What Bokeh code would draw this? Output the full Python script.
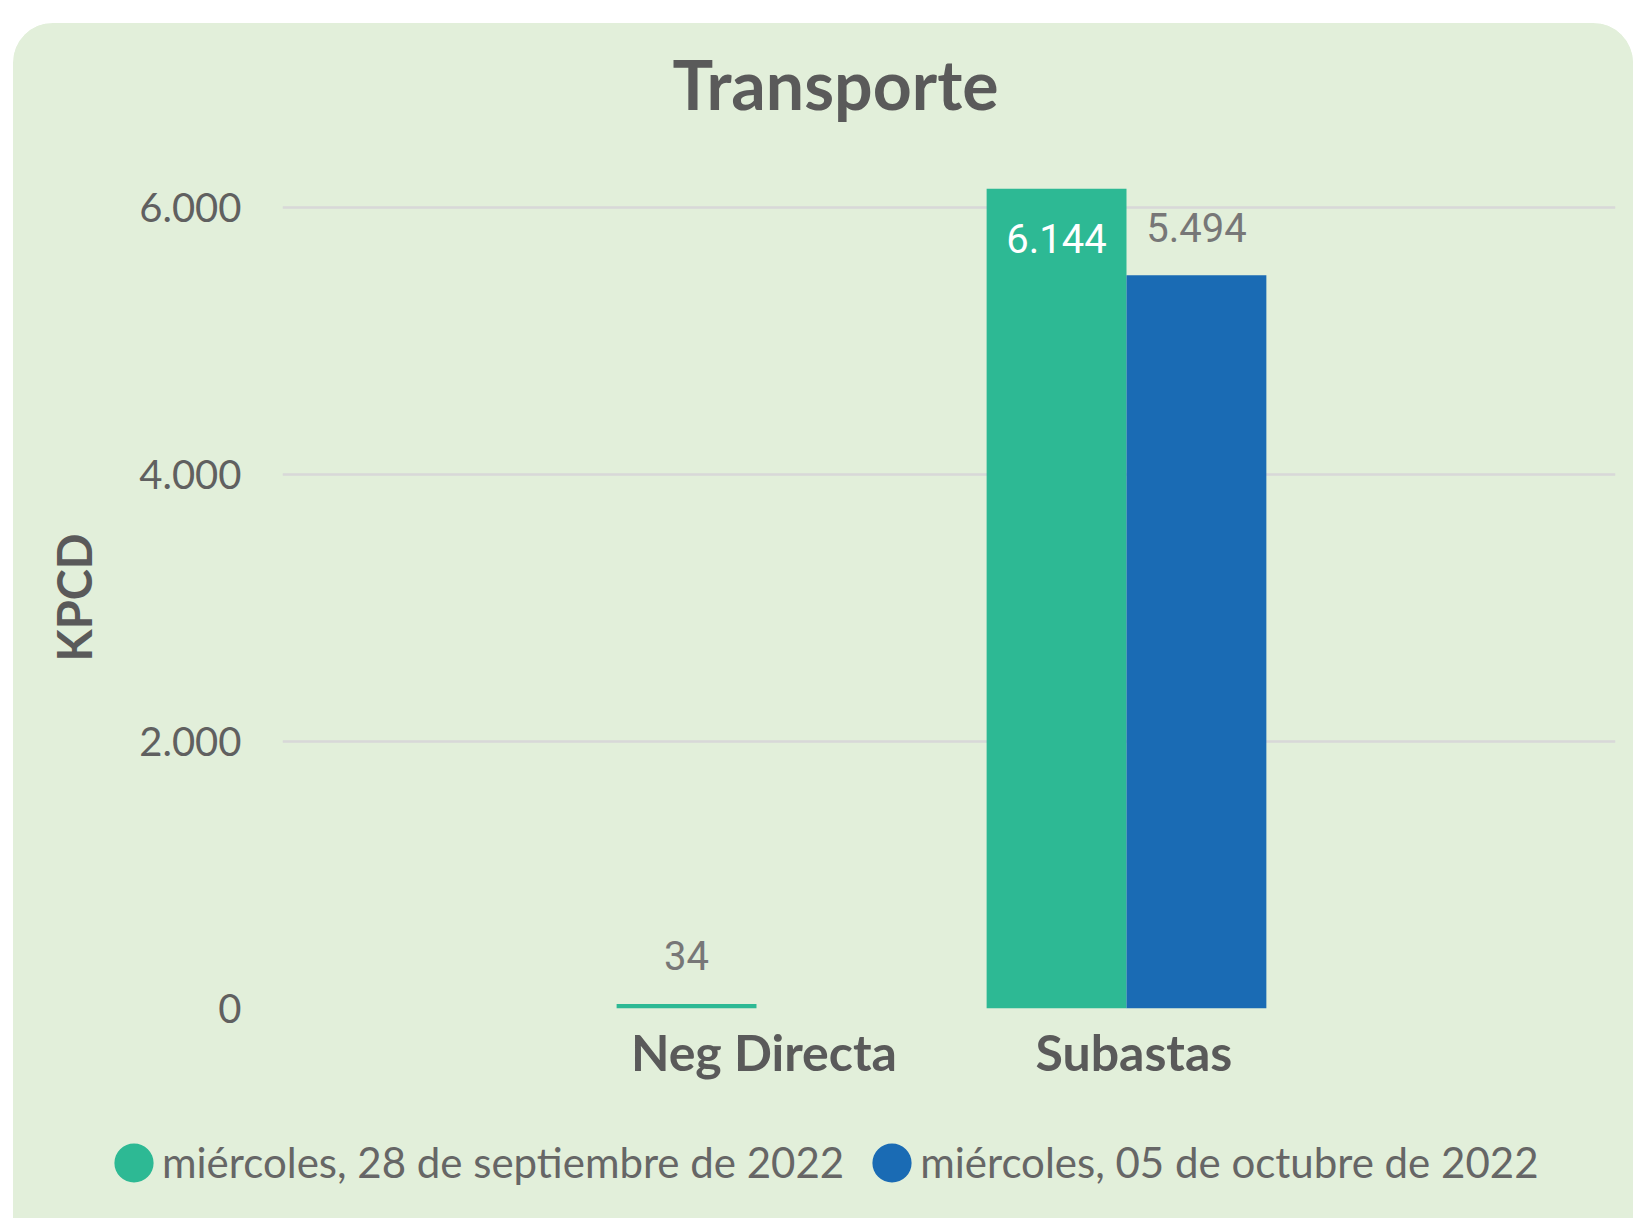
import numpy as np
from bokeh.plotting import figure
from bokeh.layouts import column
from bokeh.models import (ColumnDataSource, Range1d, FixedTicker, Title,
                          CustomJSTickFormatter, Legend, LegendItem)
from bokeh.core.properties import value
from bokeh.embed import file_html
from bokeh.resources import INLINE

# ---------------- data ----------------
categories = ["Neg Directa", "Subastas"]
series_names = ["miércoles, 28 de septiembre de 2022",
                "miércoles, 05 de octubre de 2022"]
values_sep28 = [34, 6144]
values_oct05 = [None, 5494]
series_colors = ["#2DB994", "#1A6BB4"]
y_ticks = [0, 2000, 4000, 6000]
title_text = "Transporte"
y_label = "KPCD"

# ---------------- style ----------------
CARD = "#E2EFDA"
DARK = "#5A5A5A"
TICK = "#606060"
VAL = "#777777"
BAR_W = 0.378
Y_END = 6160
LABEL_SHIFT = 0.02

W, H1, H2 = 1620, 1085, 110
p = figure(width=W, height=H1, output_backend="svg", toolbar_location=None,
           x_range=Range1d(-1.281, 2.3216), y_range=Range1d(0, Y_END),
           min_border_left=269, min_border_right=18,
           min_border_top=163, min_border_bottom=H1 - 985)
p.frame_align = False
p.styles = {"border-radius": "40px 40px 0 0", "overflow": "hidden",
            "background-color": CARD}
p.background_fill_color = CARD
p.border_fill_color = CARD
p.outline_line_color = None

fmt = lambda v: f"{v:,.0f}".replace(",", ".")

out_x, out_y, out_t = [], [], []
in_x, in_y, in_t = [], [], []
all_series = [values_sep28, values_oct05]
for k, (vals, col) in enumerate(zip(all_series, series_colors)):
    xs = [i + (k - 0.5) * BAR_W for i in range(len(categories))]
    tops = [np.nan if v is None else v for v in vals]
    src = ColumnDataSource(dict(x=xs, top=tops))
    p.vbar(x="x", top="top", bottom=0, width=BAR_W, source=src,
           fill_color=col, line_color=None)
    for x, v in zip(xs, vals):
        if v is None:
            continue
        if v > 0.93 * Y_END:
            in_x.append(x); in_y.append(v); in_t.append(fmt(v))
        else:
            out_x.append(x); out_y.append(v); out_t.append(fmt(v))

p.text(x="x", y="y", text="t",
       source=ColumnDataSource(dict(x=out_x, y=out_y, t=out_t)),
       text_align="center", text_baseline="alphabetic", y_offset=-48,
       text_font=value("Roboto"), text_font_size="40px", text_color=VAL)
p.text(x="x", y="y", text="t",
       source=ColumnDataSource(dict(x=in_x, y=in_y, t=in_t)),
       text_align="center", text_baseline="alphabetic", y_offset=50,
       text_font=value("Roboto"), text_font_size="40px", text_color="white")

# ---------------- axes ----------------
xa = p.xaxis[0]
xa.ticker = FixedTicker(ticks=[i + LABEL_SHIFT for i in range(len(categories))])
xa.formatter = CustomJSTickFormatter(
    args=dict(cats=categories, shift=LABEL_SHIFT),
    code="return cats[Math.round(tick - shift)];")
xa.axis_line_color = None
xa.major_tick_line_color = None
xa.minor_tick_line_color = None
xa.major_tick_out = 0
xa.major_tick_in = 0
xa.minor_tick_out = 0
xa.major_label_standoff = 13
xa.major_label_text_font = "Lato"
xa.major_label_text_font_style = "bold"
xa.major_label_text_font_size = "50px"
xa.major_label_text_color = DARK

ya = p.yaxis[0]
ya.ticker = FixedTicker(ticks=y_ticks)
ya.formatter = CustomJSTickFormatter(
    code=r"return tick.toFixed(0).replace(/\B(?=(\d{3})+(?!\d))/g, '.');")
ya.axis_line_color = None
ya.major_tick_line_color = None
ya.minor_tick_line_color = None
ya.major_tick_out = 0
ya.major_tick_in = 0
ya.minor_tick_out = 0
ya.major_label_standoff = 41
ya.major_label_text_font = "Lato"
ya.major_label_text_font_size = "40px"
ya.major_label_text_color = TICK
ya.axis_label = y_label
ya.axis_label_standoff = 34
ya.axis_label_text_font = "Lato"
ya.axis_label_text_font_style = "bold"
ya.axis_label_text_font_size = "47px"
ya.axis_label_text_color = DARK

p.xgrid.visible = False
p.ygrid.ticker = FixedTicker(ticks=y_ticks)
p.ygrid.grid_line_color = "#D8D8D8"
p.ygrid.grid_line_width = 2.5

# ---------------- title ----------------
p.title.text = title_text
p.title.align = "left"
p.title.offset = 390
p.title.standoff = 10
p.title.text_font = "Lato"
p.title.text_font_style = "bold"
p.title.text_font_size = "68px"
p.title.text_color = DARK
p.add_layout(Title(text=" ", text_font_size="20px", standoff=34), "above")

# ---------------- legend (own strip) ----------------
p2 = figure(width=W, height=H2, output_backend="svg", toolbar_location=None,
            x_range=Range1d(0, 1), y_range=Range1d(0, 1),
            x_axis_location=None, y_axis_location=None,
            min_border=0)
p2.frame_align = False
p2.styles = {"background-color": CARD}
p2.background_fill_color = CARD
p2.border_fill_color = CARD
p2.outline_line_color = None
p2.grid.visible = False

items = []
for name, col in zip(series_names, series_colors):
    r = p2.ellipse(x=[-5], y=[-5], width=40, height=40,
                   width_units="screen", height_units="screen",
                   fill_color=col, line_color=None)
    items.append(LegendItem(label=name, renderers=[r]))
legend = Legend(items=items, location=(96, 31), orientation="horizontal",
                glyph_width=49, glyph_height=49, label_standoff=4,
                spacing=23, padding=0, margin=0,
                border_line_color=None, background_fill_alpha=0,
                label_text_font="Lato", label_text_font_size="42px",
                label_text_color="#666666")
p2.add_layout(legend, "center")

lay = column(p, p2, spacing=0,
             styles={"margin-left": "13px", "margin-top": "23px"})

open("out.html", "w").write(file_html(lay, INLINE))
